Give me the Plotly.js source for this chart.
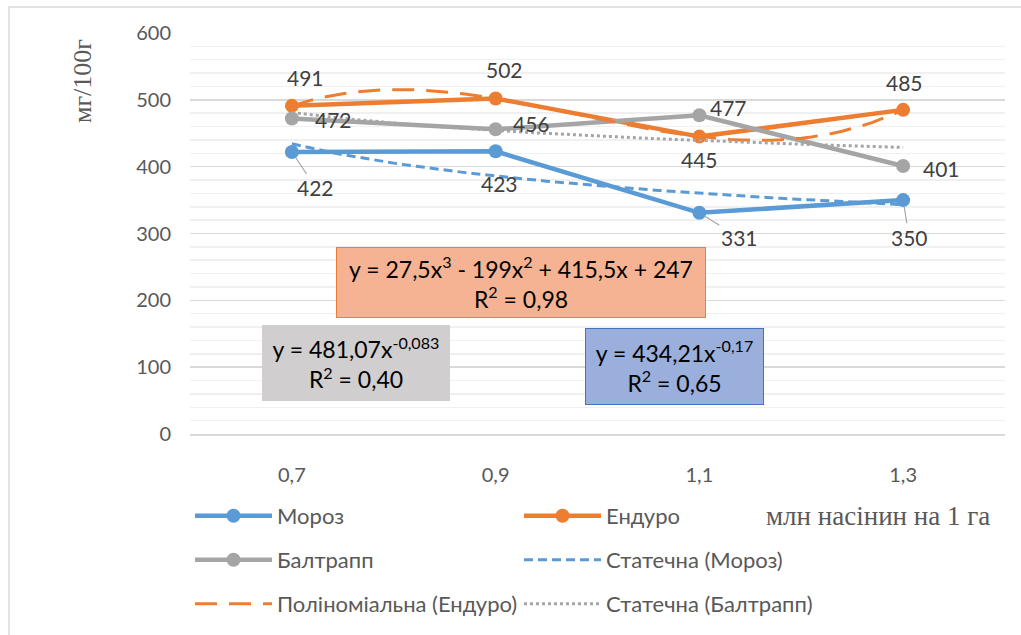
<!DOCTYPE html>
<html><head><meta charset="utf-8">
<script src="https://cdn.plot.ly/plotly-3.0.1.min.js"></script>
<style>body{margin:0;background:#fff}</style></head>
<body><div id="chart" style="width:1021px;height:635px"></div>
<script>
// ---- data ----
const categories = ['0,7', '0,9', '1,1', '1,3'];
const moroz = [422, 423, 331, 350];
const enduro = [491, 502, 445, 485];
const baltrapp = [472, 456, 477, 401];
// trendline equations as shown on the chart (x = category number 1..4)
const morozPowerCoef = [434.21, -0.17];          // y = a * x^b, R² = 0,65
const baltrappPowerCoef = [481.07, -0.083];      // y = a * x^b, R² = 0,40
const enduroPolyCoef = [27.5, -199, 415.5, 247]; // cubic, R² = 0,98
const seriesNames = ['Мороз', 'Ендуро', 'Балтрапп', 'Статечна (Мороз)', 'Поліноміальна (Ендуро)', 'Статечна (Балтрапп)'];
const yTicks = [0, 100, 200, 300, 400, 500, 600];

// ---- build ----
const FONT = 'Lato, "Noto Sans", sans-serif';
const SERIF = '"Liberation Serif", "DejaVu Serif", serif';
const C_BLUE = '#5B9BD5', C_ORANGE = '#ED7D31', C_GRAY = '#A5A5A5';
const idx = categories.map((_, i) => i);

function trendX() {
  const xs = [];
  for (let k = 0; k <= 60; k++) xs.push(1 + 3 * k / 60);
  return xs;
}
const tx = trendX();
const power = c => tx.map(x => c[0] * Math.pow(x, c[1]));
const poly = c => tx.map(x => c[0] * x * x * x + c[1] * x * x + c[2] * x + c[3]);
const txPlot = tx.map(x => x - 1);

function dataTrace(y, name, color, legend) {
  return {x: idx, y: y, name: name, type: 'scatter', mode: 'lines+markers',
    line: {color: color, width: 4.5}, marker: {color: color, size: 14, symbol: 'circle'},
    legend: legend, hoverinfo: 'x+y'};
}
const traces = [
  dataTrace(moroz, seriesNames[0], C_BLUE, 'legend'),
  dataTrace(enduro, seriesNames[1], C_ORANGE, 'legend'),
  dataTrace(baltrapp, seriesNames[2], C_GRAY, 'legend2'),
  {x: txPlot, y: power(morozPowerCoef), name: seriesNames[3], type: 'scatter', mode: 'lines',
   line: {color: C_BLUE, width: 3, dash: '9px,5px'}, legend: 'legend2'},
  {x: txPlot, y: poly(enduroPolyCoef), name: seriesNames[4], type: 'scatter', mode: 'lines',
   line: {color: C_ORANGE, width: 3, dash: '22px,12px'}, legend: 'legend3'},
  {x: txPlot, y: power(baltrappPowerCoef), name: seriesNames[5], type: 'scatter', mode: 'lines',
   line: {color: C_GRAY, width: 3, dash: '3px,3px'}, legend: 'legend3'}
];

// data labels
const labelStyle = {font: {family: FONT, size: 21, color: '#404040'}};
const annotations = [];
function addLabels(vals, offs) {
  vals.forEach((v, i) => {
    const o = offs[i];
    if (o.arrow) {
      annotations.push(Object.assign({x: i, y: v, xref: 'x', yref: 'y', text: String(v),
        showarrow: true, arrowhead: 0, arrowwidth: 1.2, arrowcolor: '#A6A6A6', standoff: 7,
        ax: o.dx, ay: o.dy}, labelStyle));
    } else {
      annotations.push(Object.assign({x: i, y: v, xref: 'x', yref: 'y', text: String(v),
        showarrow: false, xshift: o.dx, yshift: -o.dy}, labelStyle));
    }
  });
}
addLabels(moroz, [{dx: 24, dy: 36, arrow: true}, {dx: 4, dy: 32}, {dx: 40, dy: 25, arrow: true}, {dx: 6, dy: 37, arrow: true}]);
addLabels(enduro, [{dx: 14, dy: -28}, {dx: 9, dy: -29}, {dx: 0, dy: 23}, {dx: 1, dy: -27}]);
addLabels(baltrapp, [{dx: 42, dy: 1}, {dx: 36, dy: -6}, {dx: 29, dy: -8}, {dx: 38, dy: 2}]);

const W = 1021, H = 635;
const cx = p => p / W, cy = p => 1 - p / H;

// equation boxes
const eqFont = {family: FONT, size: 23, color: '#000'};
annotations.push({xref: 'paper', yref: 'paper', x: (521 - 190) / 815, y: (434 - 282) / 401,
  xanchor: 'center', yanchor: 'middle', showarrow: false,
  text: 'y = 27,5x<sup>3</sup> - 199x<sup>2</sup> + 415,5x + 247<br>R<sup>2</sup> = 0,98', font: eqFont,
  bgcolor: '#F5B393', bordercolor: '#ED7D31', borderwidth: 1, width: 366, height: 67, align: 'center'});
annotations.push({xref: 'paper', yref: 'paper', x: (356 - 190) / 815, y: (434 - 363) / 401,
  xanchor: 'center', yanchor: 'middle', showarrow: false,
  text: 'y = 481,07x<sup>-0,083</sup><br>R<sup>2</sup> = 0,40', font: eqFont,
  bgcolor: '#D0CECE', borderwidth: 0, width: 186, height: 74, align: 'center'});
annotations.push({xref: 'paper', yref: 'paper', x: (674.5 - 190) / 815, y: (434 - 366.5) / 401,
  xanchor: 'center', yanchor: 'middle', showarrow: false,
  text: 'y = 434,21x<sup>-0,17</sup><br>R<sup>2</sup> = 0,65', font: eqFont,
  bgcolor: '#9AAFDC', bordercolor: '#4472C4', borderwidth: 1, width: 175, height: 73, align: 'center'});

// axis titles
annotations.push({xref: 'paper', yref: 'paper', x: (82 - 190) / 815, y: (434 - 81) / 401,
  xanchor: 'center', yanchor: 'middle', showarrow: false, textangle: -90,
  text: 'мг/100г', font: {family: SERIF, size: 26, color: '#595959'}});
annotations.push({xref: 'paper', yref: 'paper', x: (878 - 190) / 815, y: (434 - 516) / 401,
  xanchor: 'center', yanchor: 'middle', showarrow: false,
  text: 'млн насінин на 1 га', font: {family: SERIF, size: 27, color: '#595959'}});

const legendBase = {orientation: 'h', xref: 'container', yref: 'container', xanchor: 'left', yanchor: 'middle',
  font: {family: FONT, size: 22, color: '#595959'}, bgcolor: 'rgba(0,0,0,0)', itemwidth: 77,
  entrywidth: 237, entrywidthmode: 'pixels', traceorder: 'normal', itemclick: false};
const layout = {
  width: W, height: H,
  margin: {l: 190, r: 16, t: 33, b: 201},
  paper_bgcolor: '#fff', plot_bgcolor: '#fff',
  font: {family: FONT, color: '#595959'},
  showlegend: true,
  legend: Object.assign({}, legendBase, {x: cx(190), y: cy(516)}),
  legend2: Object.assign({}, legendBase, {x: cx(190), y: cy(560)}),
  legend3: Object.assign({}, legendBase, {x: cx(190), y: cy(604)}),
  xaxis: {range: [-0.5, 3.5], tickvals: idx, ticktext: categories, showgrid: false, zeroline: false,
    showline: true, linecolor: '#D9D9D9', linewidth: 1.5, ticks: '', ticklabelstandoff: 22,
    tickfont: {family: FONT, size: 20, color: '#595959'}, fixedrange: true},
  yaxis: {range: [0, 600], tickvals: yTicks, showgrid: true, gridcolor: '#D9D9D9', gridwidth: 1.5,
    zeroline: false, showline: false, ticks: '', ticklabelstandoff: 18,
    tickfont: {family: FONT, size: 20, color: '#595959'},
    minor: {dtick: 20, showgrid: true, gridcolor: '#F0F0F0', gridwidth: 1.5}, fixedrange: true},
  annotations: annotations,
  shapes: [{type: 'rect', xref: 'paper', yref: 'paper', x0: (9 - 190) / 815, x1: (1040 - 190) / 815,
    y0: (434 - 660) / 401, y1: (434 - 7) / 401, line: {color: '#D9D9D9', width: 1.5}, fillcolor: 'rgba(0,0,0,0)', layer: 'below'}],
  hovermode: false
};
Plotly.newPlot('chart', traces, layout, {displayModeBar: false, staticPlot: true});
</script></body></html>
